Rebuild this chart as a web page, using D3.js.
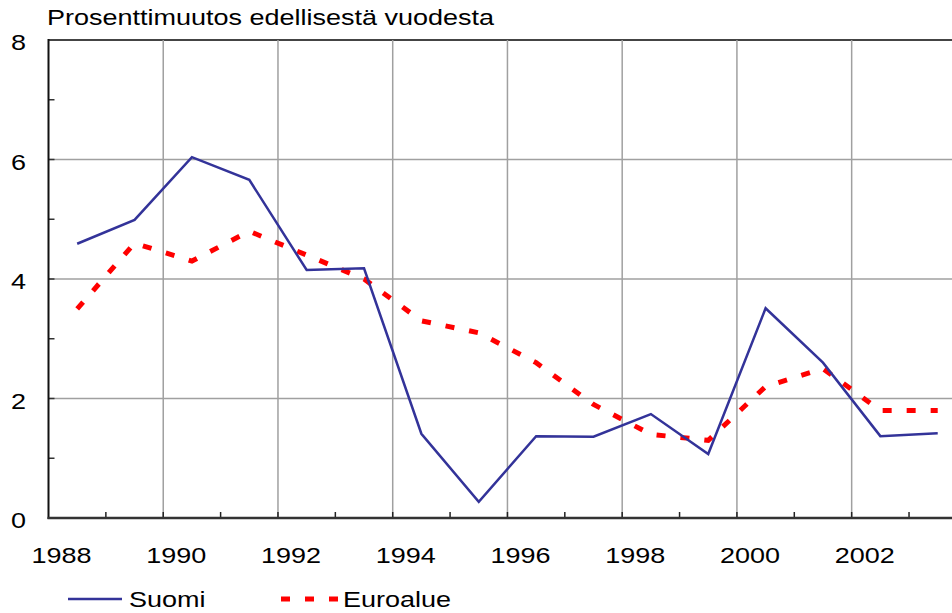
<!DOCTYPE html>
<html>
<head>
<meta charset="utf-8">
<script src="https://cdn.jsdelivr.net/npm/d3@7"></script>
<style>
  body { margin: 0; background: #fff; }
  text { font-family: "Liberation Sans", Arial, sans-serif; fill: #000; }
</style>
</head>
<body>
<svg id="chart" width="952" height="613"></svg>
<script>
"use strict";

// years are plotted mid-year (category centre)
var years = [1988, 1989, 1990, 1991, 1992, 1993, 1994, 1995,
             1996, 1997, 1998, 1999, 2000, 2001, 2002, 2003];
var suomi = [4.59, 4.99, 6.04, 5.66, 4.15, 4.18, 1.41, 0.27,
             1.37, 1.36, 1.74, 1.07, 3.51, 2.60, 1.37, 1.42];
var euroalue = [3.5, 4.6, 4.3, 4.8, 4.4, 4.0, 3.3, 3.1,
                2.6, 1.9, 1.4, 1.3, 2.2, 2.5, 1.8, 1.8];
var yTicks = [0, 2, 4, 6, 8];
var xLabels = [1988, 1990, 1992, 1994, 1996, 1998, 2000, 2002];
var title = "Prosenttimuutos edellisestä vuodesta";

var svg = d3.select("#chart");
var sx = 1.2; // text in the original is stretched horizontally

var x = d3.scaleLinear().domain([1988, 2004]).range([48.5, 966.4]),
    y = d3.scaleLinear().domain([0, 8]).range([518, 40]);

var g = svg.append("g");

// horizontal gridlines
g.selectAll(".hgrid").data(yTicks.filter(v => v > 0))
  .enter().append("line")
  .attr("x1", x(1988)).attr("x2", 952)
  .attr("y1", d => y(d)).attr("y2", d => y(d))
  .attr("stroke", d => d === 8 ? "#444" : "#a0a0a0")
  .attr("stroke-width", d => d === 8 ? 2 : 1.5);

// vertical gridlines
g.selectAll(".vgrid").data(xLabels.filter(v => v > 1988))
  .enter().append("line")
  .attr("x1", d => x(d)).attr("x2", d => x(d))
  .attr("y1", y(8)).attr("y2", y(0))
  .attr("stroke", "#a0a0a0").attr("stroke-width", 1.5);

// minor ticks on y axis
g.selectAll(".ytick").data(d3.range(1, 8))
  .enter().append("line")
  .attr("x1", x(1988)).attr("x2", x(1988) + 6)
  .attr("y1", d => y(d)).attr("y2", d => y(d))
  .attr("stroke", "#333").attr("stroke-width", 1.5);

// ticks on x axis, one per year
g.selectAll(".xtick").data(d3.range(1989, 2005))
  .enter().append("line")
  .attr("x1", d => x(d)).attr("x2", d => x(d))
  .attr("y1", y(0)).attr("y2", y(0) - 6)
  .attr("stroke", "#222").attr("stroke-width", 1.5);

// axes
g.append("line")
  .attr("x1", x(1988)).attr("x2", x(1988))
  .attr("y1", y(8) - 1).attr("y2", y(0) + 1)
  .attr("stroke", "#111").attr("stroke-width", 2);
g.append("line")
  .attr("x1", x(1988) - 1).attr("x2", 952)
  .attr("y1", y(0)).attr("y2", y(0))
  .attr("stroke", "#333").attr("stroke-width", 2.5);

// series
var line = d3.line()
  .x((d, i) => x(years[i] + 0.5))
  .y(d => y(d));

g.append("path").datum(euroalue)
  .attr("d", line)
  .attr("fill", "none")
  .attr("stroke", "#ff0000")
  .attr("stroke-width", 5)
  .attr("stroke-dasharray", "9,15");

g.append("path").datum(suomi)
  .attr("d", line)
  .attr("fill", "none")
  .attr("stroke", "#333399")
  .attr("stroke-width", 2.5)
  .attr("stroke-linejoin", "miter");

// texts
var stretched = (px, py, str, anchor) => svg.append("text")
  .attr("transform", "translate(" + px + "," + py + ") scale(" + sx + ",1)")
  .attr("text-anchor", anchor || "start")
  .attr("font-size", 22.5)
  .text(str);

stretched(47, 25, title);

yTicks.forEach(v => stretched(26, y(v) + 10, v, "end"));
xLabels.forEach(v => stretched(x(v) + 13, 563, v, "middle"));

// legend
svg.append("line")
  .attr("x1", 68).attr("x2", 122).attr("y1", 599).attr("y2", 599)
  .attr("stroke", "#333399").attr("stroke-width", 2.5);
stretched(129, 607, "Suomi");

svg.append("line")
  .attr("x1", 281).attr("x2", 338).attr("y1", 599).attr("y2", 599)
  .attr("stroke", "#ff0000").attr("stroke-width", 5)
  .attr("stroke-dasharray", "9,15");
stretched(343, 607, "Euroalue");
</script>
</body>
</html>
